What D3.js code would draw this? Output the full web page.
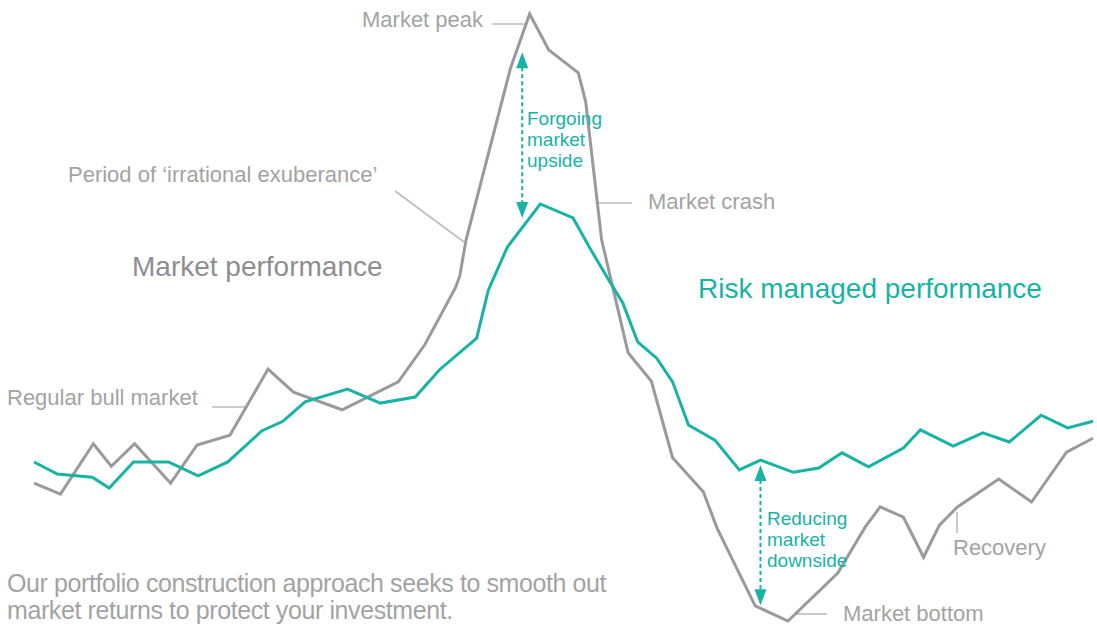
<!DOCTYPE html>
<html>
<head>
<meta charset="utf-8">
<script src="https://cdn.jsdelivr.net/npm/d3@7"></script>
<style>
  html, body { margin: 0; padding: 0; background: #fff; }
  svg { display: block; font-family: "Liberation Sans", Arial, Helvetica, sans-serif; }
</style>
</head>
<body>
<svg id="chart" width="1097" height="625"></svg>
<script>
// ---- Data (time index 0..100, performance index 0..100) ----
const marketT = [0.0, 2.5, 5.6, 7.3, 9.5, 12.9, 15.4, 18.5, 22.1, 24.5, 29.1, 34.4, 36.9, 39.8, 40.2, 40.8, 45.0, 46.8, 48.6, 51.4, 52.1, 53.6, 56.1, 58.3, 60.3, 63.2, 64.5, 68.1, 71.2, 75.9, 78.5, 79.9, 82.1, 84.0, 85.5, 87.2, 91.1, 94.2, 97.5, 100.0];
const marketV = [22.7, 20.9, 29.2, 25.5, 29.2, 22.7, 29.0, 30.6, 41.5, 37.7, 34.8, 39.4, 45.5, 54.9, 56.8, 62.8, 91.1, 100.0, 94.1, 90.3, 85.5, 62.8, 44.2, 39.5, 26.9, 21.3, 15.3, 2.5, 0.0, 7.9, 15.5, 18.8, 17.1, 10.5, 15.8, 18.8, 23.4, 19.6, 27.8, 30.1];

const riskT = [0.0, 2.2, 5.5, 7.1, 9.4, 12.7, 15.5, 18.3, 21.5, 23.5, 25.6, 29.6, 32.7, 36.0, 38.3, 41.8, 42.9, 44.7, 47.8, 50.9, 52.5, 54.4, 55.6, 57.0, 58.8, 60.3, 61.8, 64.3, 66.6, 68.6, 71.7, 74.1, 76.3, 78.8, 82.1, 83.7, 86.8, 89.6, 92.1, 95.1, 97.6, 100.0];
const riskV = [26.2, 24.2, 23.7, 21.9, 26.2, 26.2, 23.9, 26.2, 31.3, 32.9, 36.1, 38.2, 35.9, 36.9, 41.4, 46.6, 54.5, 61.6, 68.7, 66.4, 61.4, 55.8, 52.4, 46.0, 43.3, 39.4, 32.3, 29.8, 24.9, 26.5, 24.5, 25.2, 27.7, 25.4, 28.5, 31.5, 28.8, 31.0, 29.5, 33.9, 31.8, 32.9];

// gap arrows: [time, from value, to value]
const arrowT = [46.1, 68.6];
const arrowTop = [93.7, 25.7];
const arrowBottom = [66.4, 2.6];

const seriesTitles = ["Market performance", "Risk managed performance"];
const upsideLines = ["Forgoing", "market", "upside"];
const downsideLines = ["Reducing", "market", "downside"];
const captionLines = ["Our portfolio construction approach seeks to smooth out", "market returns to protect your investment."];

// ---- Styles ----
const GRAY = "#9a9a9d";
const GRAY_TEXT = "#a3a3a3";
const GRAY_TITLE = "#8e8e91";
const LEADER = "#bcbcbc";
const TEAL = "#17b3a3";

const svg = d3.select("#chart");
const x = d3.scaleLinear().domain([0, 100]).range([34, 1093]);
const y = d3.scaleLinear().domain([0, 100]).range([621, 14]);

const line = d3.line().x(d => x(d[0])).y(d => y(d[1]));

const marketData = marketT.map((t, i) => [t, marketV[i]]);
const riskData = riskT.map((t, i) => [t, riskV[i]]);

// leader lines
const leaders = [
  [395, 191, 464, 242],
  [492, 24, 526, 24],
  [598, 203, 632, 203],
  [212, 407, 247, 407],
  [795, 614, 827, 614],
  [957, 512, 957, 533]
];
svg.append("g").selectAll("line").data(leaders).join("line")
  .attr("x1", d => d[0]).attr("y1", d => d[1])
  .attr("x2", d => d[2]).attr("y2", d => d[3])
  .attr("stroke", LEADER).attr("stroke-width", 1.6);

svg.append("path").datum(marketData)
  .attr("d", line).attr("fill", "none")
  .attr("stroke", GRAY).attr("stroke-width", 3).attr("stroke-linejoin", "miter");

svg.append("path").datum(riskData)
  .attr("d", line).attr("fill", "none")
  .attr("stroke", TEAL).attr("stroke-width", 3).attr("stroke-linejoin", "miter");

// arrows
const ag = svg.append("g");
arrowT.forEach((t, i) => {
  const ax = x(t), yTop = y(arrowTop[i]), yBot = y(arrowBottom[i]);
  const head = 16, hw = 6;
  ag.append("line")
    .attr("x1", ax).attr("x2", ax)
    .attr("y1", yTop + head - 1).attr("y2", yBot - head + 1)
    .attr("stroke", TEAL).attr("stroke-width", 2)
    .attr("stroke-dasharray", "4,3");
  ag.append("path")
    .attr("d", `M${ax},${yTop}L${ax - hw},${yTop + head}L${ax + hw},${yTop + head}Z`)
    .attr("fill", TEAL);
  ag.append("path")
    .attr("d", `M${ax},${yBot}L${ax - hw},${yBot - head}L${ax + hw},${yBot - head}Z`)
    .attr("fill", TEAL);
});

// labels
function label(txt, lx, ly, size, color) {
  return svg.append("text").attr("x", lx).attr("y", ly)
    .attr("font-size", size).attr("fill", color).text(txt);
}
label("Market peak", 362, 27, 22, GRAY_TEXT);
label("Period of \u2018irrational exuberance\u2019", 68, 182, 22, GRAY_TEXT);
label(seriesTitles[0], 132, 276, 28, GRAY_TITLE);
label("Market crash", 648, 209, 22, GRAY_TEXT);
label(seriesTitles[1], 698, 298, 28, TEAL);
label("Regular bull market", 7, 405, 22, GRAY_TEXT);
label("Recovery", 953, 555, 22, GRAY_TEXT);
label("Market bottom", 843, 621, 22, GRAY_TEXT);

upsideLines.forEach((s, i) => label(s, 527, 125 + i * 21, 19, TEAL));
downsideLines.forEach((s, i) => label(s, 767, 525 + i * 21, 19, TEAL));
captionLines.forEach((s, i) => label(s, 7, 592 + i * 27, 25, GRAY_TEXT).attr("letter-spacing", -0.4));
</script>
</body>
</html>
